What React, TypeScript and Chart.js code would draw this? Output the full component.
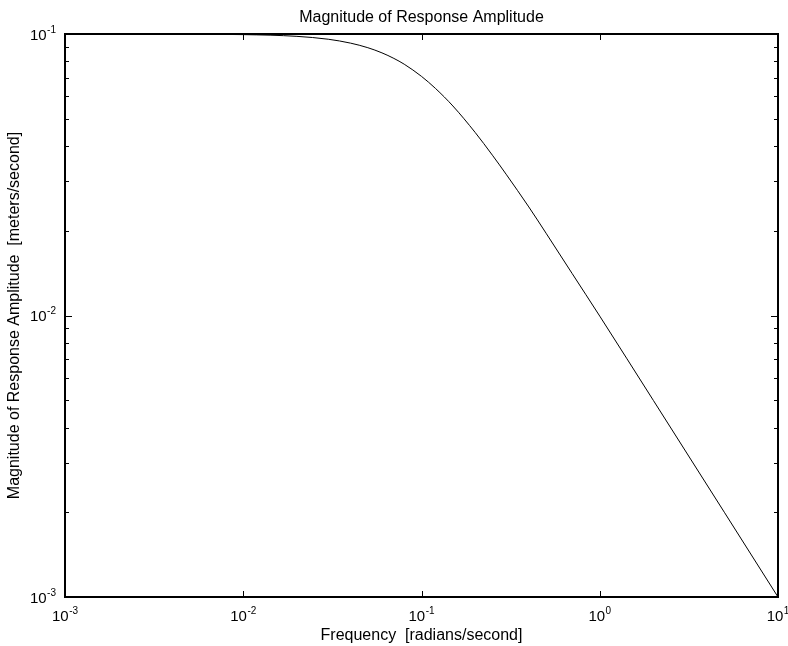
import React, { useEffect, useRef } from "react";
import { Chart, registerables } from "chart.js";

Chart.register(...registerables);

const titleText = "Magnitude of Response Amplitude";
const xLabel = "Frequency  [radians/second]";
const yLabel = "Magnitude of Response Amplitude  [meters/second]";

const frequency = [
  0.001, 0.003, 0.01, 0.02, 0.03, 0.04, 0.05, 0.06, 0.07, 0.08, 0.1, 0.12, 0.15,
  0.2, 0.25, 0.3, 0.4, 0.5, 0.7, 1, 2, 5, 10,
];
const amplitude = [
  0.1, 0.09996, 0.0995, 0.0981, 0.0958, 0.0928, 0.0894, 0.0857, 0.0819, 0.0781,
  0.0707, 0.064, 0.0555, 0.0447, 0.0371, 0.0316, 0.0243, 0.0196, 0.0141,
  0.00995, 0.00499, 0.002, 0.001,
];

const xMajorTicks = [0.001, 0.01, 0.1, 1, 10];
const xTickExponents = ["-3", "-2", "-1", "0", "1"];
const yMajorTicks = [0.001, 0.01, 0.1];
const yTickExponents = ["-3", "-2", "-1"];
const yMinorMultipliers = [2, 3, 4, 5, 6, 7, 8, 9];

const FONT = '"Liberation Sans", Arial, sans-serif';

const framePlugin = {
  id: "matlabFrame",
  afterDraw(chart: any) {
    const { ctx, chartArea: a, scales } = chart;
    const xs = scales.x;
    const ys = scales.y;
    ctx.save();
    ctx.strokeStyle = "#000";
    // ticks
    ctx.lineWidth = 1;
    ctx.beginPath();
    xMajorTicks.forEach((v) => {
      const px = Math.round(xs.getPixelForValue(v)) + 0.5;
      ctx.moveTo(px, a.bottom);
      ctx.lineTo(px, a.bottom - 6);
      ctx.moveTo(px, a.top);
      ctx.lineTo(px, a.top + 6);
    });
    yMajorTicks.forEach((v) => {
      const py = Math.round(ys.getPixelForValue(v)) + 0.5;
      ctx.moveTo(a.left, py);
      ctx.lineTo(a.left + 7, py);
      ctx.moveTo(a.right, py);
      ctx.lineTo(a.right - 7, py);
    });
    yMajorTicks.slice(0, -1).forEach((d) => {
      yMinorMultipliers.forEach((m) => {
        const py = Math.round(ys.getPixelForValue(d * m)) + 0.5;
        ctx.moveTo(a.left, py);
        ctx.lineTo(a.left + 4, py);
        ctx.moveTo(a.right, py);
        ctx.lineTo(a.right - 4, py);
      });
    });
    ctx.stroke();
    // frame
    ctx.lineWidth = 2;
    ctx.strokeRect(a.left, a.top, a.right - a.left, a.bottom - a.top);

    ctx.fillStyle = "#000";
    const mainFont = `15px ${FONT}`;
    const expFont = `10px ${FONT}`;
    // y tick labels
    yMajorTicks.forEach((v, i) => {
      const py = ys.getPixelForValue(v);
      ctx.font = expFont;
      const ew = ctx.measureText(yTickExponents[i]).width;
      const right = a.left - 9;
      const base = py + 5.5;
      ctx.textAlign = "left";
      ctx.textBaseline = "alphabetic";
      ctx.fillText(yTickExponents[i], right - ew, base - 7);
      ctx.font = mainFont;
      ctx.textAlign = "right";
      ctx.fillText("10", right - ew - 0.5, base);
    });
    // x tick labels
    xMajorTicks.forEach((v, i) => {
      const px = xs.getPixelForValue(v);
      ctx.font = mainFont;
      const mw = ctx.measureText("10").width;
      ctx.font = expFont;
      const ew = ctx.measureText(xTickExponents[i]).width;
      const start = px - (mw + ew + 0.5) / 2;
      const base = a.bottom + 24;
      ctx.textAlign = "left";
      ctx.textBaseline = "alphabetic";
      ctx.font = mainFont;
      ctx.fillText("10", start, base);
      ctx.font = expFont;
      ctx.fillText(xTickExponents[i], start + mw + 0.5, base - 7);
    });
    // titles
    const cx = (a.left + a.right) / 2;
    ctx.font = `16px ${FONT}`;
    ctx.textAlign = "center";
    ctx.textBaseline = "alphabetic";
    ctx.fillText(titleText, cx, a.top - 12);
    ctx.fillText(xLabel, cx, a.bottom + 43);
    const cy = (a.top + a.bottom) / 2;
    ctx.translate(19, cy);
    ctx.rotate(-Math.PI / 2);
    ctx.fillText(yLabel, 0, 0);
    ctx.restore();
  },
};

export default function App() {
  const ref = useRef<HTMLCanvasElement | null>(null);
  useEffect(() => {
    if (!ref.current) return;
    const chart = new Chart(ref.current, {
      type: "line",
      data: {
        datasets: [
          {
            data: frequency.map((x, i) => ({ x, y: amplitude[i] })),
            borderColor: "#000",
            borderWidth: 1,
            pointRadius: 0,
            fill: false,
            cubicInterpolationMode: "monotone",
          },
        ],
      },
      options: {
        animation: false,
        responsive: false,
        devicePixelRatio: 1,
        layout: { padding: { left: 65, right: 10, top: 34, bottom: 49 } },
        plugins: { legend: { display: false }, tooltip: { enabled: false } },
        scales: {
          x: { type: "logarithmic", min: 0.001, max: 10, display: false },
          y: { type: "logarithmic", min: 0.001, max: 0.1, display: false },
        },
      },
      plugins: [framePlugin],
    });
    return () => chart.destroy();
  }, []);
  return (
    <div style={{ position: "fixed", left: 0, top: 0, width: 788, height: 646, background: "#fff" }}>
      <canvas ref={ref} width={788} height={646} style={{ display: "block" }} />
    </div>
  );
}
